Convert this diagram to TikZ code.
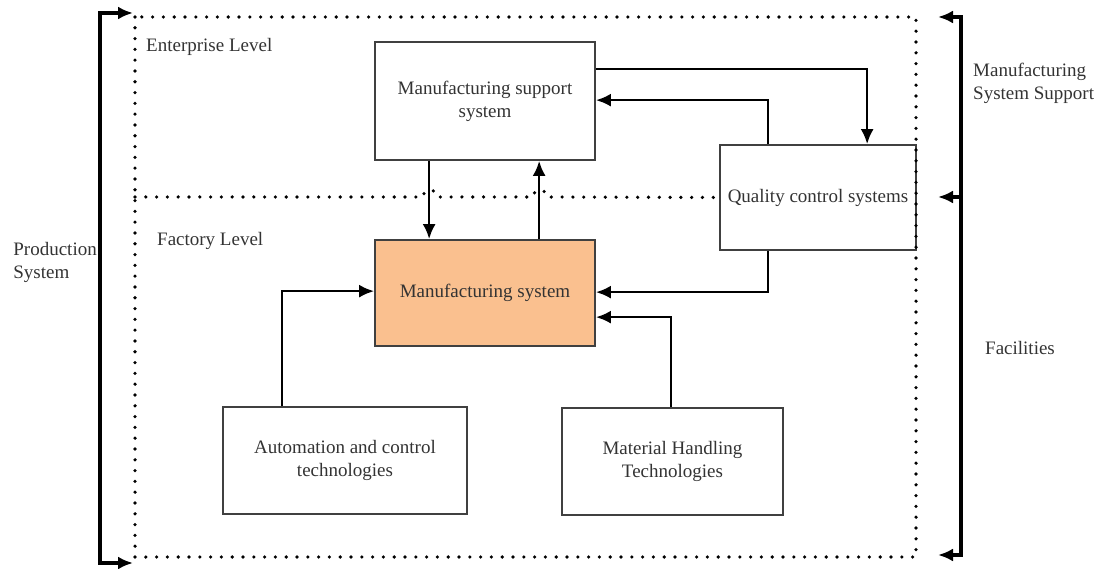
\documentclass[tikz,border=0pt]{standalone}
\usepackage{fontspec}
\setmainfont{Liberation Serif}
\usetikzlibrary{arrows.meta,calc}
\definecolor{orangefill}{HTML}{FAC08F}
\begin{document}
\begin{tikzpicture}[x=1pt,y=-1pt,
  txt/.style={font=\fontsize{19}{23}\selectfont, inner sep=0pt, align=left, text=black!80},
  box/.style={draw=black!75, line width=1.7pt, fill=white, inner sep=0pt, align=center,
    font=\fontsize{19}{23}\selectfont, text=black!80},
  arr/.style={draw=black, line width=2.6pt, -{Latex[length=15pt,width=13pt]}},
  brk/.style={draw=black, line width=3.2pt},
  dots/.style={draw=black, line width=3.6pt, line cap=round, dash pattern=on 0pt off 10.8pt}]
\useasboundingbox (0,0) rectangle (1104,569);

% boxes
\node[box, minimum width=220pt, minimum height=118pt] (msupport) at (485,101) {Manufacturing support\\system};
\node[box, fill=orangefill, minimum width=220pt, minimum height=106pt] (msys) at (485,293) {Manufacturing system};
\node[box, minimum width=196pt, minimum height=105pt] (quality) at (818,197.5) {Quality control systems};
\node[box, minimum width=244pt, minimum height=107pt] (auto) at (345,460.5) {Automation and control\\technologies};
\node[box, minimum width=221pt, minimum height=107pt] (mat) at (672.5,461.5) {Material Handling\\Technologies};

% dotted frame and level divider
\draw[dots] (135,17) rectangle (916,557);
\draw[dots] (135,197) -- (423,197) arc[start angle=180,end angle=360,radius=7]
  -- (533,197) arc[start angle=180,end angle=360,radius=7] -- (quality.west);

% level labels
\node[txt, anchor=west] (ent) at (146,47) {Enterprise Level};
\node[txt, anchor=west] (fac) at (157,241) {Factory Level};

% connectors
\draw[arr] ($(msupport.south west)+(55,0)$) -- ($(msys.north west)+(55,0)$);
\draw[arr] ($(msys.north west)+(165,0)$) -- ($(msupport.south west)+(165,0)$);
\draw[arr] ($(msupport.north east)+(0,28)$) -| ($(quality.north west)+(148,0)$);
\draw[arr] ($(quality.north west)+(49,0)$) |- ($(msupport.north east)+(0,59)$);
\draw[arr] ($(quality.south west)+(49,0)$) |- ($(msys.north east)+(0,53)$);
\draw[arr] ($(auto.north west)+(60,0)$) |- ($(msys.north west)+(0,52)$);
\draw[arr] ($(mat.north west)+(110,0)$) |- ($(msys.north east)+(0,78)$);

% brackets
\coordinate (lt) at (133,13);
\coordinate (lb) at (133,563);
\draw[brk,{Latex[length=15pt,width=13pt]}-{Latex[length=15pt,width=13pt]}] (lt) -- (100,13) -- (100,563) -- (lb);
\coordinate (rt) at (938,17);
\coordinate (rm) at (938,197);
\coordinate (rb) at (938,555);
\coordinate (rmv) at (961,197);
\draw[brk,{Latex[length=15pt,width=13pt]}-{Latex[length=15pt,width=13pt]}] (rt) -- (961,17) -- (961,555) -- (rb);
\draw[brk,-{Latex[length=15pt,width=13pt]}] (rmv) -- (rm);

% side labels
\node[txt, anchor=east] (prod) at (97,262) {Production\\System};
\node[txt, anchor=west] (mss) at (973,83) {Manufacturing\\System Support};
\node[txt, anchor=west] (facil) at (985,348) {Facilities};
\end{tikzpicture}
\end{document}
